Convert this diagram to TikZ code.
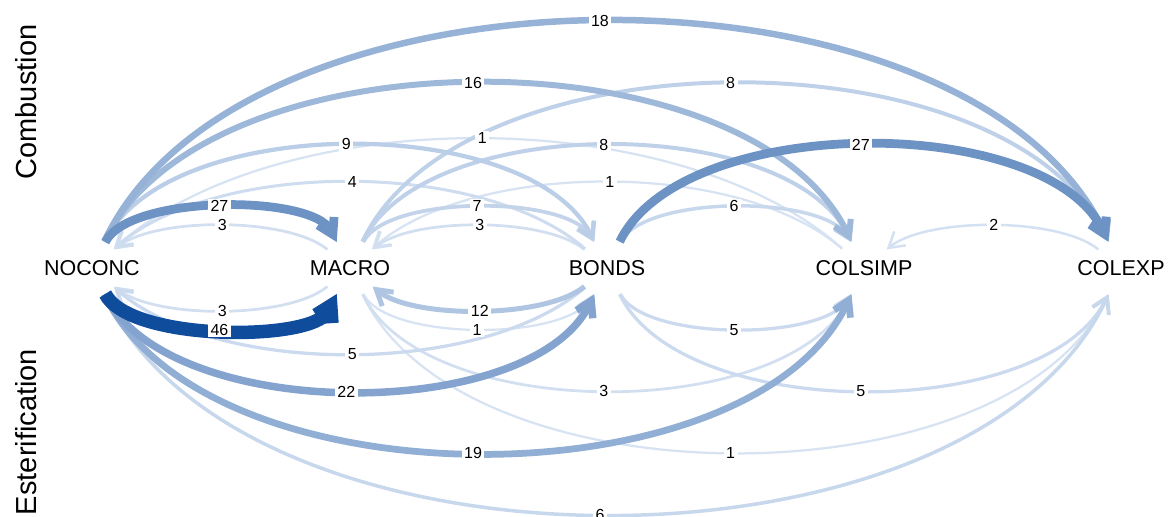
\documentclass[tikz,border=0pt]{standalone}
\usepackage{fontspec}
\setmainfont{Liberation Sans}
\usetikzlibrary{arrows.meta,calc}

\definecolor{elight}{RGB}{215,227,243}
\definecolor{edark}{RGB}{15,76,156}

\tikzset{
  node disc/.style={circle, minimum size=58pt, inner sep=0pt},
  nodetext/.style={font=\fontsize{21.5}{24}\selectfont, inner sep=0pt},
  axistext/.style={rotate=90, inner sep=0pt, font=\fontsize{29}{32}\selectfont},
  lbl/.style={fill=white, inner xsep=2.4pt, inner ysep=1.6pt, text=black,
              font=\fontsize{16}{18}\selectfont},
  % colour and width grow with the transition count
  wt/.style={/utils/exec={\pgfmathsetmacro\edgepct{100*((#1-0.99)/45.01)^1.15}},
             draw=edark!\edgepct!elight, line width={2+0.25*#1}},
  tip/.style={-{Straight Barb[length=15pt,width=18pt,sharp]}},
  % left-to-right arcs (tall) and right-to-left arcs (flatter), above or below
  fu/.style={tip, to path={let \p1=(\tikztostart), \p2=(\tikztotarget),
      \n1={\x2-\x1}, \n2={abs(\n1)} in
      .. controls ({\x1+0.146*(\n1)},{\y1+0.32*\n2-8.8})
              and ({\x2-0.146*(\n1)},{\y2+0.32*\n2-8.8}) .. (\tikztotarget) \tikztonodes}},
  fd/.style={tip, to path={let \p1=(\tikztostart), \p2=(\tikztotarget),
      \n1={\x2-\x1}, \n2={abs(\n1)} in
      .. controls ({\x1+0.146*(\n1)},{\y1-0.32*\n2+8.8})
              and ({\x2-0.146*(\n1)},{\y2-0.32*\n2+8.8}) .. (\tikztotarget) \tikztonodes}},
  ru/.style={tip, to path={let \p1=(\tikztostart), \p2=(\tikztotarget),
      \n1={\x2-\x1}, \n2={abs(\n1)} in
      .. controls ({\x1+0.2416*(\n1)},{\y1+0.224*\n2-6.6})
              and ({\x2-0.2416*(\n1)},{\y2+0.224*\n2-6.6}) .. (\tikztotarget) \tikztonodes}},
  rd/.style={tip, to path={let \p1=(\tikztostart), \p2=(\tikztotarget),
      \n1={\x2-\x1}, \n2={abs(\n1)} in
      .. controls ({\x1+0.2416*(\n1)},{\y1-0.224*\n2+6.6})
              and ({\x2-0.2416*(\n1)},{\y2-0.224*\n2+6.6}) .. (\tikztotarget) \tikztonodes}},
}

% weight / arc style / source / target, lightest first
\newcommand\edgelist{%
  \edgeitem{1}{ru}{CS}{N}  \edgeitem{1}{ru}{CS}{M}
  \edgeitem{1}{fd}{M}{B}   \edgeitem{1}{fd}{M}{CE}
  \edgeitem{2}{ru}{CE}{CS}
  \edgeitem{3}{ru}{M}{N}   \edgeitem{3}{ru}{B}{M}
  \edgeitem{3}{rd}{M}{N}   \edgeitem{3}{fd}{M}{CS}
  \edgeitem{4}{ru}{B}{N}
  \edgeitem{5}{rd}{B}{N}   \edgeitem{5}{fd}{B}{CS}  \edgeitem{5}{fd}{B}{CE}
  \edgeitem{6}{fu}{B}{CS}  \edgeitem{6}{fd}{N}{CE}
  \edgeitem{7}{fu}{M}{B}
  \edgeitem{8}{fu}{M}{CE}  \edgeitem{8}{fu}{M}{CS}
  \edgeitem{9}{fu}{N}{B}
  \edgeitem{12}{rd}{B}{M}
  \edgeitem{16}{fu}{N}{CS}
  \edgeitem{18}{fu}{N}{CE}
  \edgeitem{19}{fd}{N}{CS}
  \edgeitem{22}{fd}{N}{B}
  \edgeitem{27}{fu}{B}{CE} \edgeitem{27}{fu}{N}{M}
  \edgeitem{46}{fd}{N}{M}%
}

\begin{document}
\begin{tikzpicture}[x=1pt, y=1pt]
  \useasboundingbox (0,0) rectangle (1168,517);

  % states on the baseline
  \node[node disc, label={[nodetext]center:NOCONC}]  (N)  at (92,249)   {};
  \node[node disc, label={[nodetext]center:MACRO}]   (M)  at (350,249)  {};
  \node[node disc, label={[nodetext]center:BONDS}]   (B)  at (607,249)  {};
  \node[node disc, label={[nodetext]center:COLSIMP}] (CS) at (864,249)  {};
  \node[node disc, label={[nodetext]center:COLEXP}]  (CE) at (1121,249) {};

  % panel titles
  \node[axistext] (comb) at (26,415) {Combustion};
  \node[axistext] (este) at (26,85)  {Esterification};

  % transitions
  \def\edgeitem#1#2#3#4{\draw[wt=#1,#2] (#3) to (#4);}
  \edgelist

  % counts on top of all arcs
  \def\edgeitem#1#2#3#4{\path[#2] (#3) to node[lbl,pos=0.495]{#1} (#4);}
  \edgelist
\end{tikzpicture}
\end{document}
